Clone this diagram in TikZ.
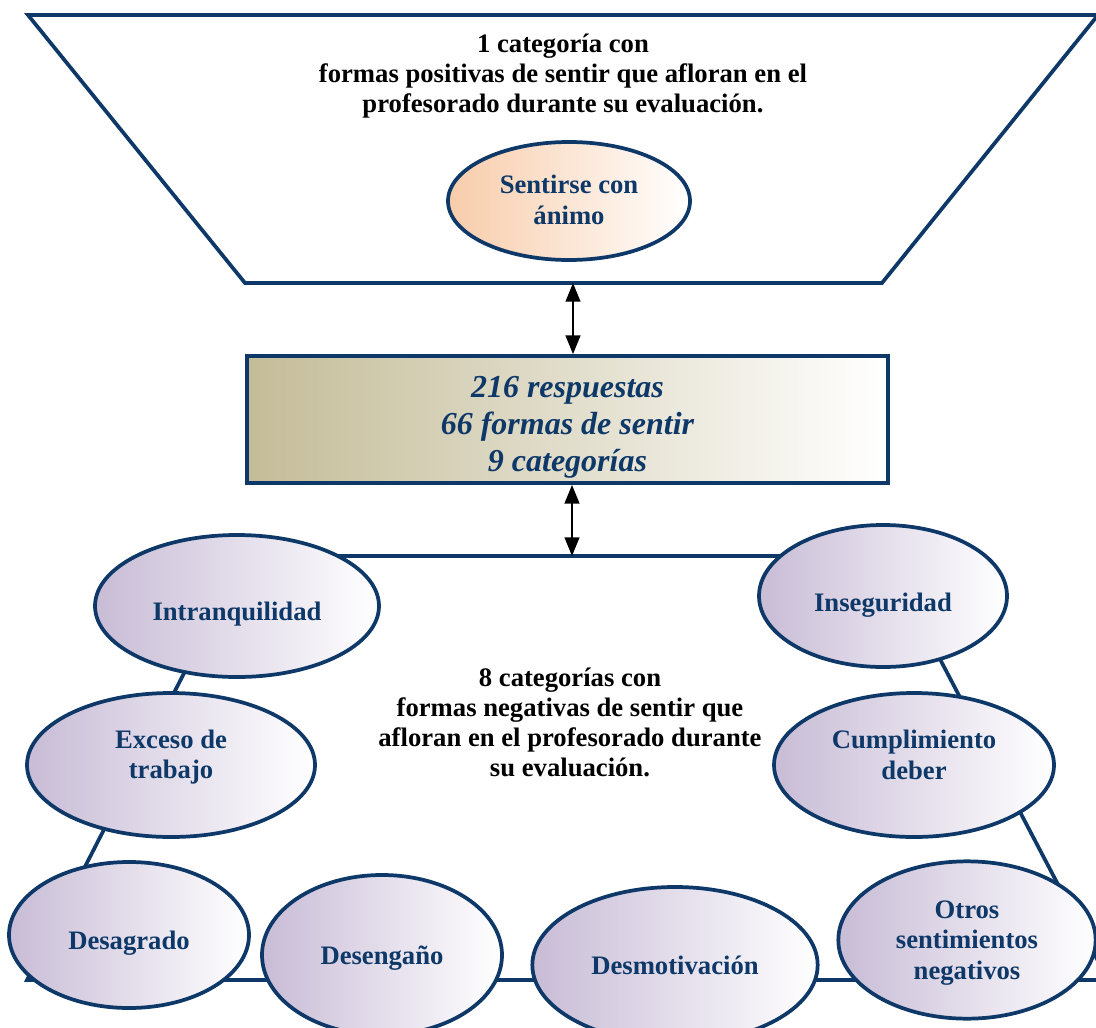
\documentclass[tikz,border=0pt]{standalone}
\usepackage{fontspec}
\setmainfont{Liberation Serif}
\usepackage{tikz}
\usetikzlibrary{arrows.meta,shapes.geometric}

\definecolor{navy}{RGB}{14,56,104}
\definecolor{lila}{RGB}{200,188,214}
\definecolor{melocoton}{RGB}{248,204,170}
\definecolor{caqui}{RGB}{196,188,152}

\begin{document}
\begin{tikzpicture}[x=0.75pt, y=-0.75pt,
  borde/.style={draw=navy, line width=2.8pt},
  cat/.style={ellipse, borde, inner sep=0pt, left color=lila, right color=white},
  catt/.style={text=navy, align=center, font=\fontsize{20}{23}\selectfont\bfseries},
  texto/.style={align=center, font=\fontsize{20}{22.5}\selectfont\bfseries},
  flecha/.style={{Triangle[length=14pt,width=11pt]}-{Triangle[length=14pt,width=11pt]}, line width=1.6pt}]
\useasboundingbox (0,0) rectangle (1096,1028);

% trapecio de arriba
\draw [borde] (28,15) -- (1098,15) -- (882,283) -- (245,283) -- cycle;
\node (pos) [texto] at (563,76) {1 categoría con\\formas positivas de sentir que afloran en el\\profesorado durante su evaluación.};
\node (animo) [cat, left color=melocoton, minimum width=181.5pt, minimum height=88.5pt] at (569,201) {};
\node (animo-t) [catt] at (569,200) {Sentirse con\\ánimo};

% trapecio de abajo
\draw [borde] (244,556) -- (886,556) -- (1108,980) -- (27,980) -- cycle;
\node (neg) [texto] at (570,722) {8 categorías con\\formas negativas de sentir que\\afloran en el profesorado durante\\su evaluación.};

% cuadro central
\node (resp) [borde, left color=caqui, right color=white, minimum width=480.75pt, minimum height=95.25pt] at (567.5,419.5) {};
\node (resp-t) [align=center, text=navy, font=\fontsize{24}{27.75}\selectfont\bfseries\itshape] at (567.5,427) {216 respuestas\\66 formas de sentir\\9 categorías};

\coordinate (t1) at (573,283);
\coordinate (t2) at (572,556);
\draw [flecha] (t1) -- (resp.north -| t1);
\draw [flecha] (resp.south -| t2) -- (t2);

% categorias negativas
\node (intran) [cat, minimum width=213pt, minimum height=106.5pt] at (237,606) {};
\node (exceso) [cat, minimum width=216pt, minimum height=108pt] at (171,765) {};
\node (desagr) [cat, minimum width=180pt, minimum height=109.5pt] at (129,935) {};
\node (deseng) [cat, minimum width=180pt, minimum height=120pt] at (382,955) {};
\node (desmot) [cat, minimum width=214pt, minimum height=117pt] at (675,965) {};
\node (inseg) [cat, minimum width=186pt, minimum height=106.5pt] at (883,596) {};
\node (cumpl) [cat, minimum width=210pt, minimum height=108pt] at (914,765) {};
\node (otros) [cat, minimum width=193pt, minimum height=118pt] at (967,940) {};

\node (intran-t) [catt] at (237,614) {Intranquilidad};
\node (exceso-t) [catt] at (171,757) {Exceso de\\trabajo};
\node (desagr-t) [catt] at (129,943) {Desagrado};
\node (deseng-t) [catt] at (382,958) {Desengaño};
\node (desmot-t) [catt] at (675,965) {Desmotivación};
\node (inseg-t) [catt] at (883,605) {Inseguridad};
\node (cumpl-t) [catt] at (914,755) {Cumplimiento\\deber};
\node (otros-t) [catt] at (967,943) {Otros\\sentimientos\\negativos};

\end{tikzpicture}
\end{document}
